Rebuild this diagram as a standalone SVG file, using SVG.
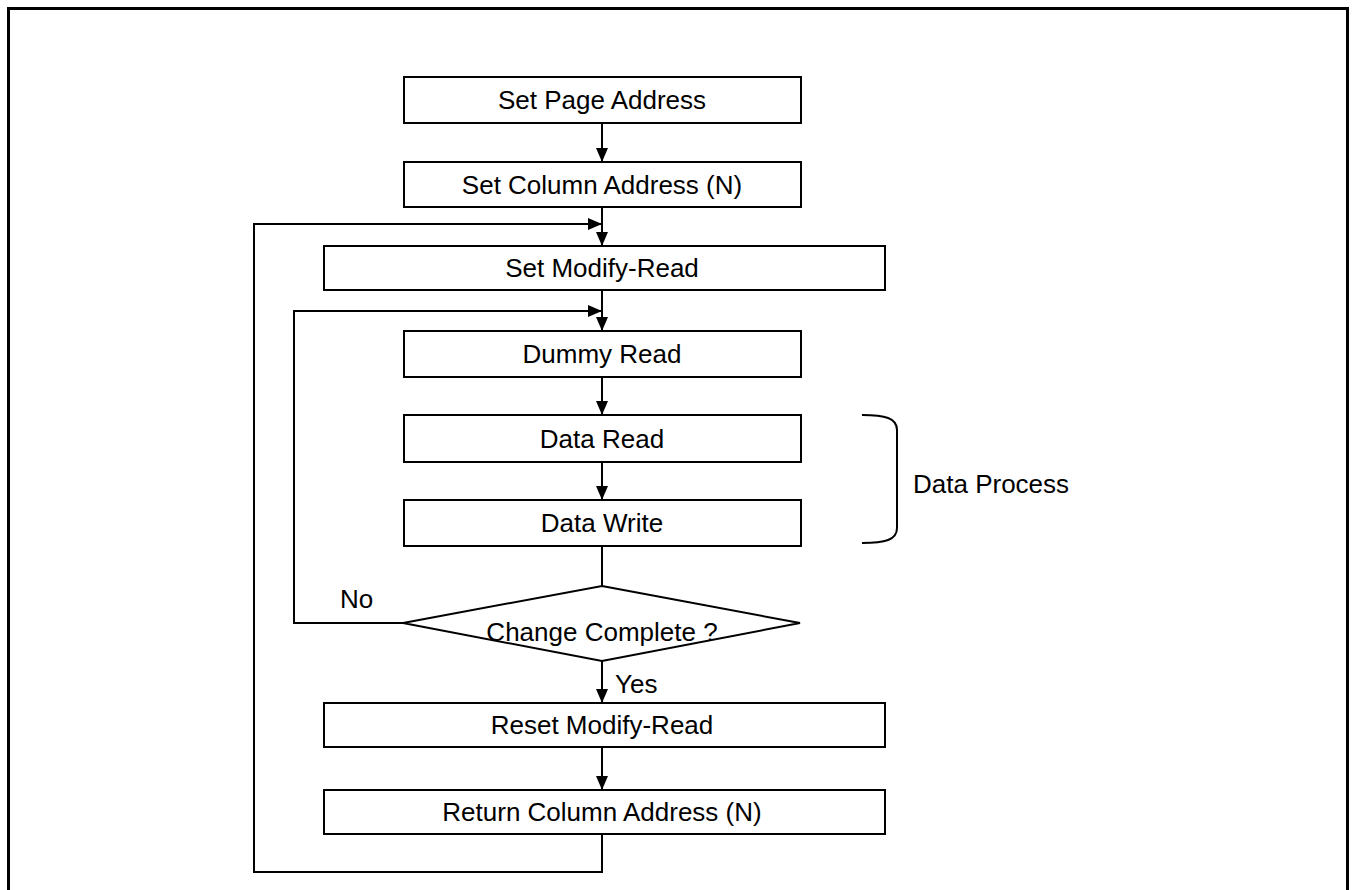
<svg xmlns="http://www.w3.org/2000/svg" width="1353" height="890" viewBox="0 0 1353 890">
<style>
.box{fill:#fff;stroke:#000;stroke-width:2}
.ln{fill:none;stroke:#000;stroke-width:2}
.t{font-family:"Liberation Sans",Arial,sans-serif;font-size:26px;fill:#000;text-anchor:middle}
.tl{font-family:"Liberation Sans",Arial,sans-serif;font-size:26px;fill:#000}
</style>
<defs>
<marker id="ah" markerUnits="userSpaceOnUse" markerWidth="14" markerHeight="12" refX="14" refY="6" orient="auto">
<path d="M0,0 L14,6 L0,12 z" fill="#000"/>
</marker>
</defs>
<rect width="1353" height="890" fill="#fff"/>
<rect x="8.5" y="8.5" width="1339" height="900" fill="none" stroke="#000" stroke-width="3"/>
<g id="connectors">
<line class="ln" x1="602" y1="123" x2="602" y2="162" marker-end="url(#ah)"/>
<line class="ln" x1="602" y1="207" x2="602" y2="246" marker-end="url(#ah)"/>
<line class="ln" x1="602" y1="290" x2="602" y2="331" marker-end="url(#ah)"/>
<line class="ln" x1="602" y1="377" x2="602" y2="415" marker-end="url(#ah)"/>
<line class="ln" x1="602" y1="462" x2="602" y2="500" marker-end="url(#ah)"/>
<line class="ln" x1="602" y1="546" x2="602" y2="586"/>
<line class="ln" x1="602" y1="661" x2="602" y2="703" marker-end="url(#ah)"/>
<line class="ln" x1="602" y1="747" x2="602" y2="790" marker-end="url(#ah)"/>
<polyline class="ln" points="602,834 602,872 254,872 254,224 602,224" marker-end="url(#ah)"/>
<polyline class="ln" points="403,623 294,623 294,311 602,311" marker-end="url(#ah)"/>
<path class="ln" d="M862,415 C885,415 897,418 897,430 L897,528 C897,540 885,543 862,543"/>
</g>
<g id="n1"><rect class="box" x="404" y="77" width="397" height="46"/><text class="t" x="602" y="109">Set Page Address</text></g>
<g id="n2"><rect class="box" x="404" y="162" width="397" height="45"/><text class="t" x="602" y="194">Set Column Address (N)</text></g>
<g id="n3"><rect class="box" x="324" y="246" width="561" height="44"/><text class="t" x="602" y="277">Set Modify-Read</text></g>
<g id="n4"><rect class="box" x="404" y="331" width="397" height="46"/><text class="t" x="602" y="363">Dummy Read</text></g>
<g id="n5"><rect class="box" x="404" y="415" width="397" height="47"/><text class="t" x="602" y="448">Data Read</text></g>
<g id="n6"><rect class="box" x="404" y="500" width="397" height="46"/><text class="t" x="602" y="532">Data Write</text></g>
<g id="n7"><polygon class="box" points="602,586 800,623 602,661 403,623"/><text class="t" x="602" y="641">Change Complete ?</text></g>
<g id="n8"><rect class="box" x="324" y="703" width="561" height="44"/><text class="t" x="602" y="734">Reset Modify-Read</text></g>
<g id="n9"><rect class="box" x="324" y="790" width="561" height="44"/><text class="t" x="602" y="821">Return Column Address (N)</text></g>
<g id="labels">
<text class="tl" x="340" y="608">No</text>
<text class="tl" x="615" y="693">Yes</text>
<text class="tl" x="913" y="493">Data Process</text>
</g>
</svg>
